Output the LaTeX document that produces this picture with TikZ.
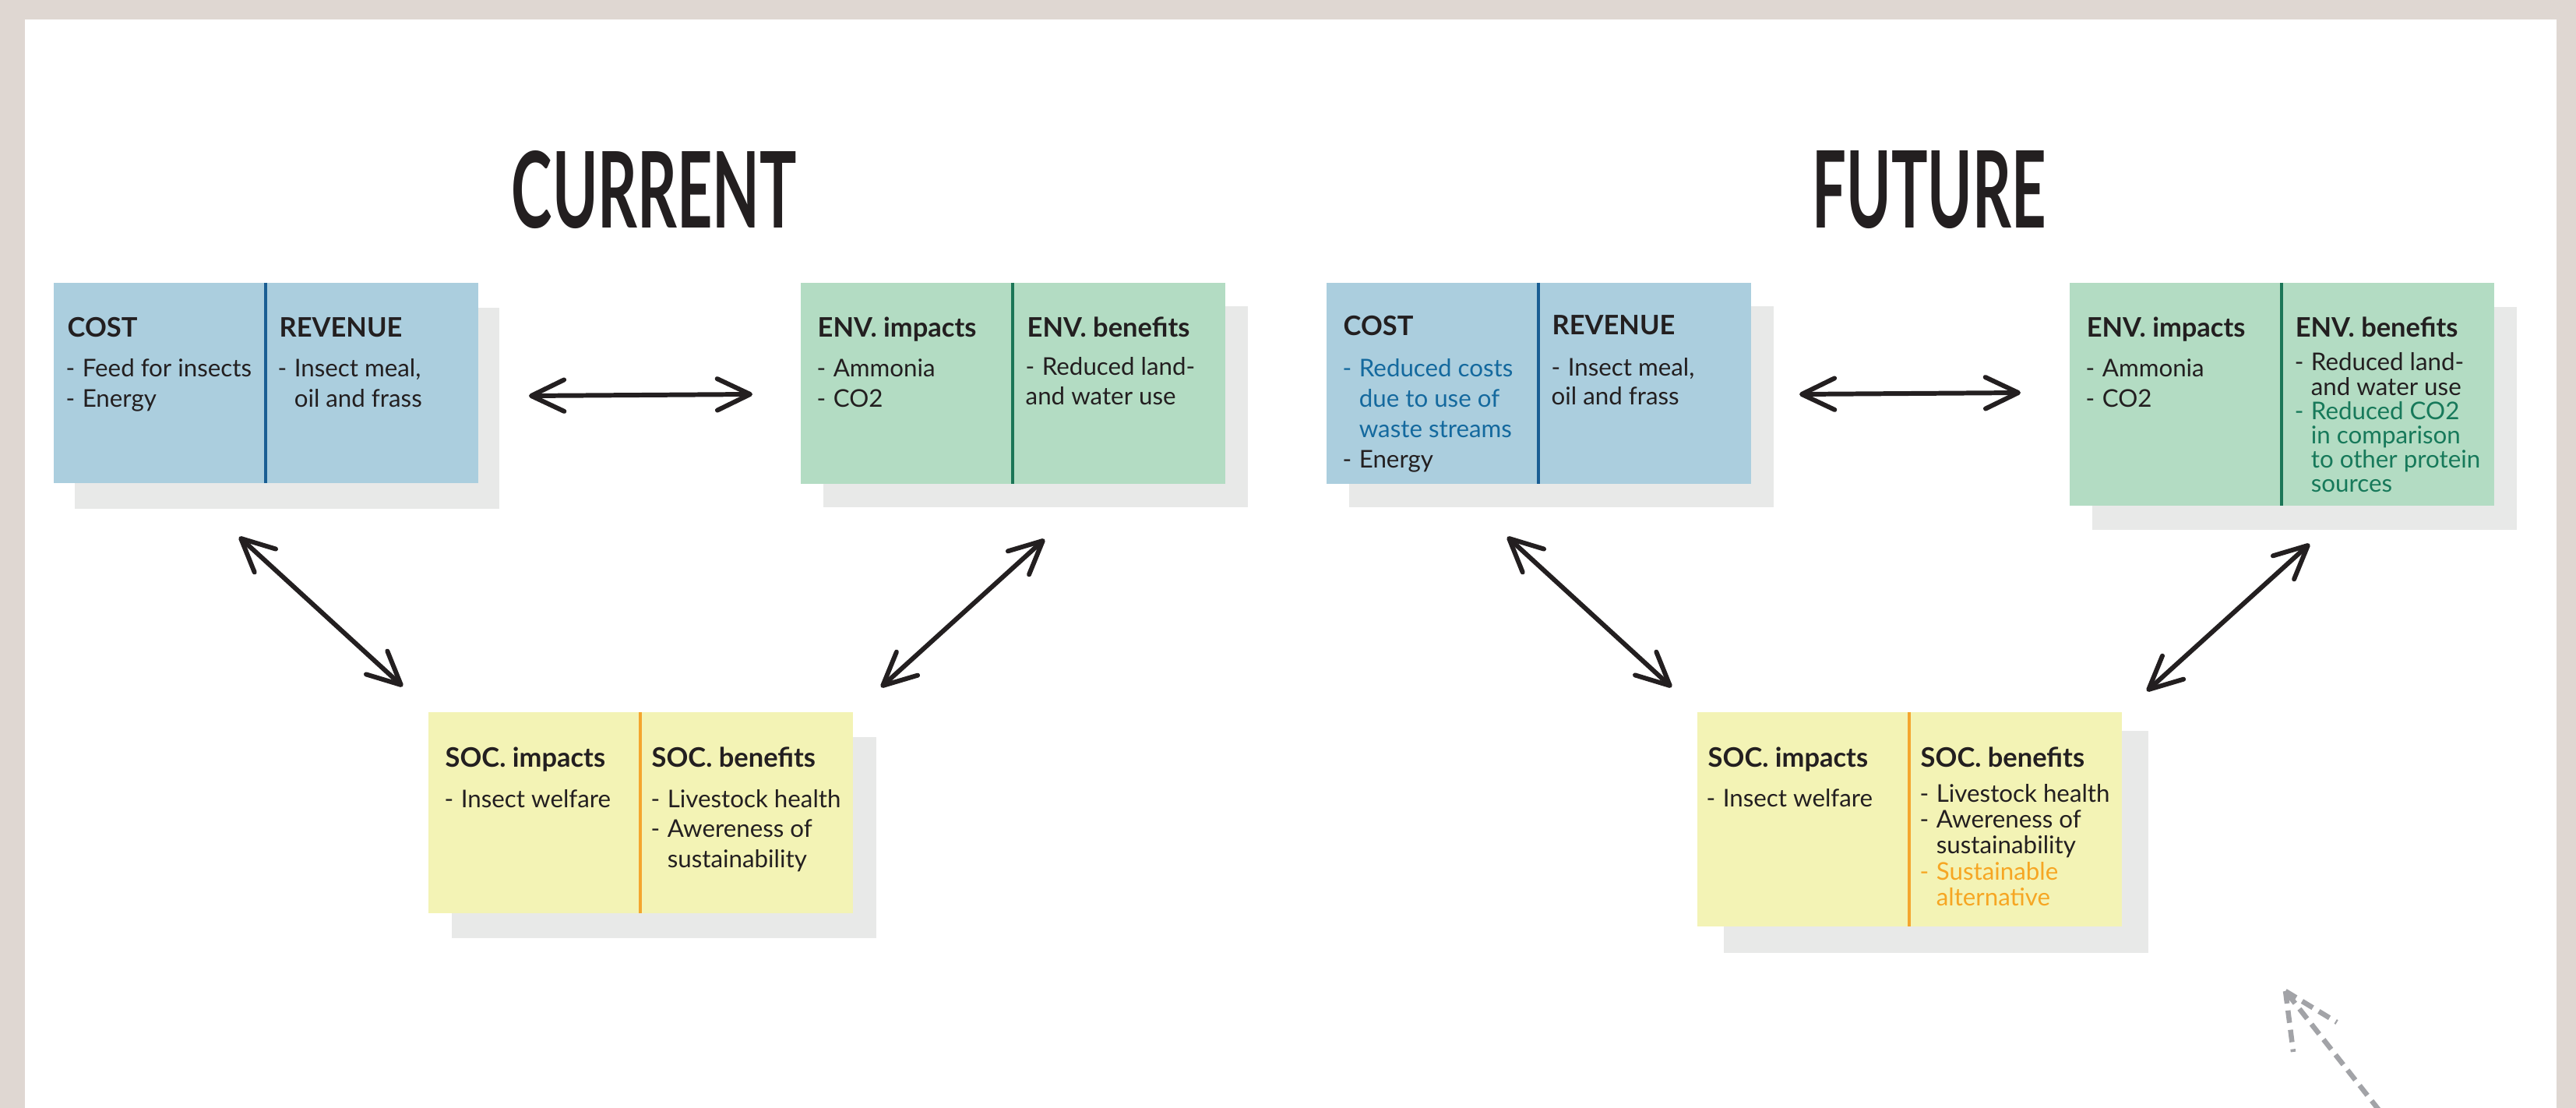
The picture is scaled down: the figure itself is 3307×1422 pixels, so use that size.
\documentclass[tikz,border=0pt]{standalone}
\usepackage{fontspec}
\usepackage{graphicx}
\setmainfont{Lato}
\newfontfamily\titlefont{Lato}
\usetikzlibrary{arrows.meta}

\definecolor{bordercol}{HTML}{DFD7D2}
\definecolor{ink}{HTML}{231F20}
\definecolor{bluebox}{HTML}{ABCEDE}
\definecolor{blueline}{HTML}{1A5E93}
\definecolor{bluetext}{HTML}{14699E}
\definecolor{greenbox}{HTML}{B3DCC3}
\definecolor{greenline}{HTML}{1B7657}
\definecolor{greentext}{HTML}{17795A}
\definecolor{yellowbox}{HTML}{F3F3B5}
\definecolor{orangeline}{HTML}{F4A52E}
\definecolor{orangetext}{HTML}{F6A623}
\definecolor{shadowcol}{HTML}{E8E9E8}
\definecolor{dashgray}{HTML}{A2A3A7}

\newcommand\bodyfont{\fontsize{8.9pt}{11pt}\selectfont}
\newcommand\headfont{\fontsize{9.8pt}{11pt}\selectfont\bfseries}
\newcommand\dsh{\makebox[6pt][l]{-}}
\newcommand\ind{\hspace*{6pt}}
\newcommand\mystack[2]{\vtop{\baselineskip=#1\lineskiplimit=-\maxdimen\lineskip=0pt\halign{##\hfil\cr#2\crcr}}}

\begin{document}
\begin{tikzpicture}[x=0.01cm,y=-0.01cm,
  panelbox/.style={rectangle, inner sep=0pt, outer sep=0pt, anchor=north west, minimum width=5.45cm},
  shadowbox/.style={panelbox, fill=shadowcol},
  headtxt/.style={anchor=base west, inner sep=0pt, font=\headfont, text=ink},
  bodytxt/.style={anchor=base west, inner sep=0pt, font=\bodyfont, text=ink},
  divider/.style={line width=1pt},
  arr/.style={draw=ink, line width=1.7pt, line cap=round,
    {Straight Barb[length=12pt,width=11.5pt,round]}-{Straight Barb[length=12pt,width=11.5pt,round]}},
  dashedarr/.style={draw=dashgray, line width=1.85pt, dash pattern=on 0.16cm off 0.09cm},
  titletxt/.style={anchor=base west, inner sep=0pt, text=ink}
]
\useasboundingbox (0,0) rectangle (3307,1422);
\clip (0,0) rectangle (3307,1422);
\fill[bordercol] (0,0) rectangle (3307,1422);
\fill[white] (32,25) rectangle (3282,1440);

% titles
\node[titletxt] (tcur) at (656,293) {\resizebox{3.66cm}{0.99cm}{\titlefont\bfseries CURRENT}};
\node[titletxt] (tfut) at (2326,293) {\resizebox{3.00cm}{0.99cm}{\titlefont\bfseries FUTURE}};

% shadows
\node[shadowbox, minimum height=2.58cm] (s1) at (96,395) {};
\node[shadowbox, minimum height=2.58cm] (s2) at (1057,393) {};
\node[shadowbox, minimum height=2.58cm] (s3) at (580,946) {};
\node[shadowbox, minimum height=2.58cm] (s4) at (1732,393) {};
\node[shadowbox, minimum height=2.86cm] (s5) at (2686,394) {};
\node[shadowbox, minimum height=2.85cm] (s6) at (2213,938) {};

% panels
\node[panelbox, fill=bluebox, minimum height=2.57cm] (b1) at (69,363) {};
\node[panelbox, fill=greenbox, minimum height=2.58cm] (b2) at (1028,363) {};
\node[panelbox, fill=yellowbox, minimum height=2.58cm] (b3) at (550,914) {};
\node[panelbox, fill=bluebox, minimum height=2.58cm] (b4) at (1703,363) {};
\node[panelbox, fill=greenbox, minimum height=2.86cm] (b5) at (2657,363) {};
\node[panelbox, fill=yellowbox, minimum height=2.75cm] (b6) at (2179,914) {};

% dividers
\draw[divider, blueline] (341,363) -- (341,620);
\draw[divider, greenline] (1300,363) -- (1300,621);
\draw[divider, orangeline] (822,914) -- (822,1172);
\draw[divider, blueline] (1975,363) -- (1975,621);
\draw[divider, greenline] (2929,363) -- (2929,649);
\draw[divider, orangeline] (2451,914) -- (2451,1189);

% CURRENT cost / revenue
\node[headtxt] (h1a) at (86,433) {COST};
\node[headtxt] (h1b) at (358,433) {REVENUE};
\node[bodytxt] (t1a) at (84,484) {\mystack{10.9pt}{\dsh Feed for insects\cr \dsh Energy}};
\node[bodytxt] (t1b) at (356,484) {\mystack{10.9pt}{\dsh Insect meal,\cr \ind oil and frass}};

% CURRENT env
\node[headtxt] (h2a) at (1049,433) {ENV. impacts};
\node[headtxt] (h2b) at (1318,433) {ENV. benefits};
\node[bodytxt] (t2a) at (1048,484) {\mystack{10.9pt}{\dsh Ammonia\cr \dsh CO2}};
\node[bodytxt] (t2b) at (1316,482) {\mystack{10.7pt}{\dsh Reduced land-\cr and water use}};

% CURRENT soc
\node[headtxt] (h3a) at (571,984) {SOC. impacts};
\node[headtxt] (h3b) at (836,984) {SOC. benefits};
\node[bodytxt] (t3a) at (570,1036) {\mystack{11pt}{\dsh Insect welfare}};
\node[bodytxt] (t3b) at (835,1036) {\mystack{11pt}{\dsh Livestock health\cr \dsh Awereness of\cr \ind sustainability}};

% FUTURE cost / revenue
\node[headtxt] (h4a) at (1724,431) {COST};
\node[headtxt] (h4b) at (1992,430) {REVENUE};
\node[bodytxt] (t4a) at (1723,484) {\mystack{11pt}{\textcolor{bluetext}{\dsh Reduced costs}\cr \textcolor{bluetext}{\ind due to use of}\cr \textcolor{bluetext}{\ind waste streams}\cr \dsh Energy}};
\node[bodytxt] (t4b) at (1991,483) {\mystack{10.5pt}{\dsh Insect meal,\cr oil and frass}};

% FUTURE env
\node[headtxt] (h5a) at (2678,433) {ENV. impacts};
\node[headtxt] (h5b) at (2946,433) {ENV. benefits};
\node[bodytxt] (t5a) at (2677,484) {\mystack{10.9pt}{\dsh Ammonia\cr \dsh CO2}};
\node[bodytxt] (t5b) at (2945,476) {\mystack{8.85pt}{\dsh Reduced land-\cr \ind and water use\cr \textcolor{greentext}{\dsh Reduced CO2}\cr \textcolor{greentext}{\ind in comparison}\cr \textcolor{greentext}{\ind to other protein}\cr \textcolor{greentext}{\ind sources}}};

% FUTURE soc
\node[headtxt] (h6a) at (2192,984) {SOC. impacts};
\node[headtxt] (h6b) at (2465,984) {SOC. benefits};
\node[bodytxt] (t6a) at (2190,1035) {\mystack{11pt}{\dsh Insect welfare}};
\node[bodytxt] (t6b) at (2464,1029) {\mystack{9.5pt}{\dsh Livestock health\cr \dsh Awereness of\cr \ind sustainability\cr \textcolor{orangetext}{\dsh Sustainable}\cr \textcolor{orangetext}{\ind alternative}}};

% arrow end points
\coordinate (a1s) at (679,508);  \coordinate (a1e) at (966,506);
\coordinate (a2s) at (307,689);  \coordinate (a2e) at (517,881);
\coordinate (a3s) at (1341,692); \coordinate (a3e) at (1131,882);
\coordinate (a4s) at (2310,506); \coordinate (a4e) at (2594,504);
\coordinate (a5s) at (1935,689); \coordinate (a5e) at (2146,882);
\coordinate (a6s) at (2965,698); \coordinate (a6e) at (2756,887);

\draw[arr] (a1s) -- (a1e);
\draw[arr] (a2s) -- (a2e);
\draw[arr] (a3s) -- (a3e);
\draw[arr] (a4s) -- (a4e);
\draw[arr] (a5s) -- (a5e);
\draw[arr] (a6s) -- (a6e);

% dashed pointer
\coordinate (dtip) at (2934,1272);
\coordinate (dtail) at (3070,1445);
\coordinate (darmL) at (2944,1350);
\coordinate (darmR) at (3000,1312);
\draw[dashedarr] (dtail) -- (dtip);
\draw[dashedarr] (dtip) -- (darmL);
\draw[dashedarr] (dtip) -- (darmR);
\end{tikzpicture}
\end{document}
